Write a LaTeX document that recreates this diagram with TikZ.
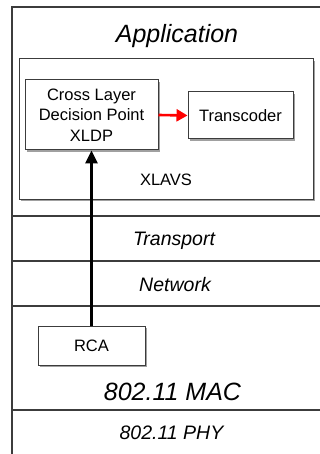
\documentclass[tikz,border=0pt]{standalone}
\usepackage{fontspec}
\setmainfont{Liberation Sans}
\usetikzlibrary{arrows.meta, positioning, shadows}
\definecolor{layerline}{HTML}{3C3C3C}
\definecolor{boxshadow}{HTML}{A0A0A0}

\begin{document}
\begin{tikzpicture}[
    x=1pt, y=-1pt,
    layer/.style={draw=layerline, line width=1.3pt},
    box/.style={draw=layerline, fill=white, line width=1pt, inner sep=0pt, align=center,
        drop shadow={shadow xshift=2pt, shadow yshift=-2pt, fill=boxshadow, opacity=1},
        font=\fontsize{16.5}{20.5}\selectfont},
    layername/.style={anchor=base, font=\itshape\fontsize{19.5}{22}\selectfont},
    bigname/.style={anchor=base, font=\itshape\fontsize{25}{28}\selectfont},
    plainname/.style={anchor=base, font=\fontsize{16.5}{20}\selectfont},
    redarrow/.style={-{Triangle[length=11pt, width=12pt]}, line width=2.6pt, red},
    uparrow/.style={-{Triangle[length=13pt, width=12pt]}, line width=2.8pt, black}
]
\useasboundingbox (0,0) rectangle (320,454);

% Layers
\draw[layer] (320,7) -- (12,7) -- (12,454);
\foreach \ly in {216,261,306,410}
    \draw[layer] (12,\ly) -- (320,\ly);

\node[bigname] (app) at (177,42.3) {Application};
\node[layername] (trans) at (174,245.7) {Transport};
\node[layername] (net) at (175,291.7) {Network};
\node[bigname] (mac) at (172.5,400) {802.11 MAC};
\node[layername] (phy) at (171.5,439.3) {802.11 PHY};

% Nodes
\node[box, minimum width=294pt, minimum height=140pt] (xlavs) at (166,129) {};
\node[plainname] (xlavslabel) at (166,185.7) {XLAVS};

\node[box, minimum width=133pt, minimum height=70pt] (xldp) at (91.5,115) {Cross Layer\\Decision Point\\XLDP};
\node[box, minimum width=105pt, minimum height=47pt] (tc) at (240.5,115.5) {Transcoder};

\node[box, minimum width=107pt, minimum height=39pt] (rca) at (91.5,345.5) {RCA};

% Connections
\draw[redarrow] (xldp.east) -- (tc.west);
\draw[uparrow] (rca.north) -- (xldp.south);

\end{tikzpicture}
\end{document}
